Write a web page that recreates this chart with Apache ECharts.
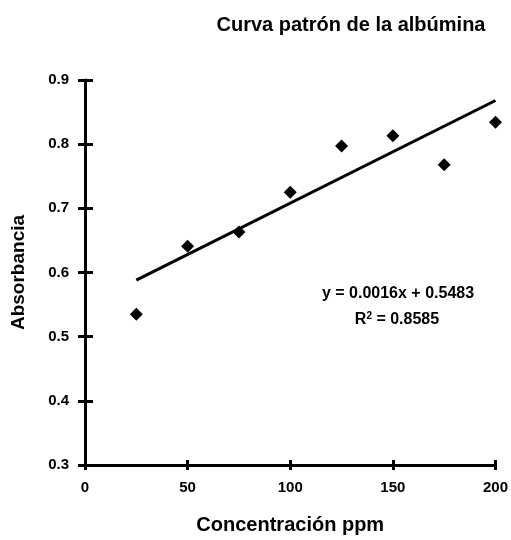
<!DOCTYPE html>
<html><head><meta charset="utf-8">
<script src="https://cdn.jsdelivr.net/npm/echarts@6/dist/echarts.min.js"></script>
<style>html,body{margin:0;padding:0;background:#fff}#c{width:511px;height:540px}</style>
</head><body><div id="c"></div>
<script>
const concentration = [25, 50, 75, 100, 125, 150, 175, 200];
const absorbance = [0.535, 0.641, 0.663, 0.725, 0.797, 0.813, 0.768, 0.834];
const trendX = [25, 200];
const trendY = [0.588, 0.868];
const xTicks = [0, 50, 100, 150, 200];
const yTicks = [0.3, 0.4, 0.5, 0.6, 0.7, 0.8, 0.9];
const equationText = 'y = 0.0016x + 0.5483';
const r2Text = 'R{sup|2} = 0.8585';

const F = 'Liberation Sans, Arial, sans-serif';
const chart = echarts.init(document.getElementById('c'));
const axCommonX = {type:'value', min:0, max:200, interval:50};
const axCommonY = {type:'value', min:0.3, max:0.9, interval:0.1};
chart.setOption({
  animation:false,
  title:{text:'Curva patrón de la albúmina', left:346, top:10, textAlign:'center',
    textStyle:{fontFamily:F, fontSize:20, fontWeight:'bold', color:'#000'}},
  grid:{left:85, right:15, top:80, bottom:75},
  xAxis:[
    Object.assign({}, axCommonX, {
      name:'Concentración ppm', nameLocation:'middle', nameGap:50,
      nameTextStyle:{fontFamily:F, fontSize:20, fontWeight:'bold', color:'#000'},
      axisLine:{show:true, lineStyle:{color:'#000', width:3}},
      axisTick:{show:true, length:5, lineStyle:{color:'#000', width:3}},
      axisLabel:{fontFamily:F, fontSize:15, fontWeight:'bold', color:'#000', margin:15,
        formatter:v=> xTicks.includes(v)? String(v):''},
      splitLine:{show:false}
    }),
    Object.assign({}, axCommonX, {
      position:'bottom',
      axisLine:{show:false},
      axisTick:{show:true, inside:true, length:5, lineStyle:{color:'#000', width:3}},
      axisLabel:{show:false}, splitLine:{show:false}
    })
  ],
  yAxis:[
    Object.assign({}, axCommonY, {
      name:'Absorbancia', nameLocation:'middle', nameGap:57,
      nameTextStyle:{fontFamily:F, fontSize:19, fontWeight:'bold', color:'#000'},
      axisLine:{show:true, lineStyle:{color:'#000', width:3}},
      axisTick:{show:true, length:7, lineStyle:{color:'#000', width:3}},
      axisLabel:{fontFamily:F, fontSize:15, fontWeight:'bold', color:'#000', margin:16,
        formatter:v=> yTicks.some(t=>Math.abs(t-v)<1e-9)? v.toFixed(1):''},
      splitLine:{show:false}
    }),
    Object.assign({}, axCommonY, {
      position:'left',
      axisLine:{show:false},
      axisTick:{show:true, inside:true, length:8, lineStyle:{color:'#000', width:3}},
      axisLabel:{show:false}, splitLine:{show:false}
    })
  ],
  graphic:[
    {type:'text', style:{
      text:equationText, x:398, y:294, align:'center', verticalAlign:'middle',
      font:'bold 16px '+F, fill:'#000'}},
    {type:'text', style:{
      text:r2Text, x:397, y:320, align:'center', verticalAlign:'middle',
      font:'bold 16px '+F, fill:'#000',
      rich:{sup:{fontSize:10, fontWeight:'bold', fontFamily:F, verticalAlign:'top', padding:[0,0,8,0]}}}}
  ],
  series:[
    {type:'line', xAxisIndex:0, yAxisIndex:0, data:trendX.map((x,i)=>[x,trendY[i]]),
      showSymbol:false, symbol:'none', lineStyle:{color:'#000', width:3}, z:2},
    {type:'scatter', xAxisIndex:0, yAxisIndex:0, data:concentration.map((x,i)=>[x,absorbance[i]]),
      symbol:'diamond', symbolSize:13, itemStyle:{color:'#000', opacity:1}, z:3}
  ]
});
</script></body></html>
